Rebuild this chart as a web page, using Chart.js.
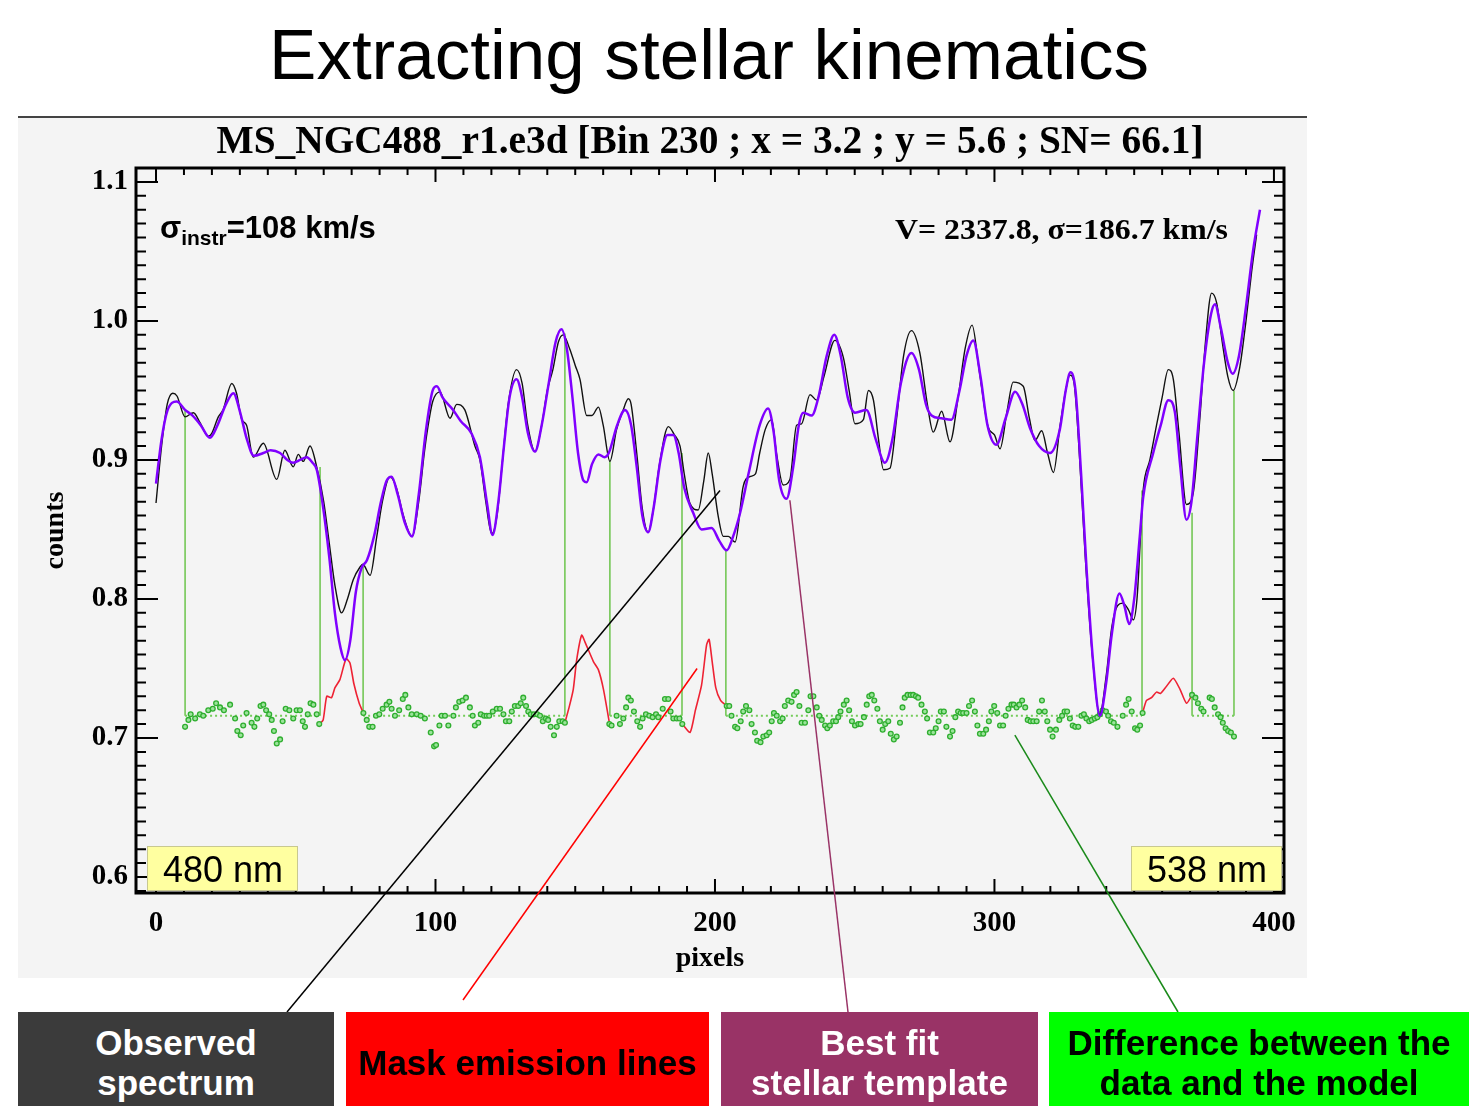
<!DOCTYPE html>
<html>
<head>
<meta charset="utf-8">
<script src="https://cdn.jsdelivr.net/npm/chart.js@4.4.0/dist/chart.umd.min.js"></script>
<style>
body { margin: 0; background: #fff; width: 1469px; height: 1106px; position: relative; overflow: hidden;
       font-family: "Liberation Sans", Arial, sans-serif; }
#head { position: absolute; left: 0; top: 19px; width: 1418px; text-align: center; font-size: 71px; line-height: 71px; color: #000; }
#panel { position: absolute; left: 18px; top: 116px; width: 1289px; height: 860px; background: #f4f4f4; border-top: 2px solid #444; }
#c { position: absolute; left: 0; top: 0; z-index: 1; }
.lab { position: absolute; top: 1012px; height: 94px; z-index: 2; display: flex; align-items: center; justify-content: center;
       text-align: center; font-weight: bold; font-size: 35px; line-height: 40px; box-sizing: border-box; padding-top: 7px; }
</style>
</head>
<body>
<div id="head">Extracting stellar kinematics</div>
<div id="panel"></div>
<canvas id="c" width="1469" height="1106"></canvas>
<div class="lab" style="left:18px;width:316px;background:#3b3b3b;color:#fff">Observed<br>spectrum</div>
<div class="lab" style="left:346px;width:363px;background:#ff0000;color:#000">Mask emission lines</div>
<div class="lab" style="left:721px;width:317px;background:#993366;color:#fff">Best fit<br>stellar template</div>
<div class="lab" style="left:1049px;width:420px;background:#00ff00;color:#000">Difference between the<br>data and the model</div>
<script>
// observed spectrum (black)
var obsX = [0, 2, 4, 6, 7.5, 10.4, 13.4, 15.7, 18.7, 19.9, 22.3, 24, 27.1, 28.8, 30.7, 32.4, 34.8, 38.4, 43.2, 46.1,
  49.1, 50.9, 52.7, 55.1, 57.5, 60, 62, 64, 66.4, 68.5, 70.6, 73, 74, 76.6, 79, 81, 83.7, 86, 88.5, 91.6,
  94, 96, 97, 99, 101.6, 105.2, 107.6, 110.5, 114.1, 115.9, 118, 120.1, 122, 124, 126, 129, 131, 133, 135.6, 138,
  140, 142, 144, 145.7, 148, 150, 151.7, 154.1, 156, 158.3, 160, 162.4, 164.8, 167, 169, 170, 172, 174, 176.1, 178,
  180, 183.3, 185.5, 187.5, 189, 191, 194, 196, 197.6, 199, 201.2, 203, 204.8, 207.2, 210.1, 212.5, 214.5, 216, 218, 220.3,
  222, 224.4, 226.8, 229.2, 231, 234, 236.4, 239, 242.9, 245.9, 248, 250.1, 253.1, 254.9, 256.7, 258.5, 260.3, 262.6, 265, 267.5,
  270.3, 273.3, 276, 278.1, 281.1, 284.1, 287, 289.5, 292, 294.5, 297.7, 300, 302, 304.5, 306.7, 310.3, 312.5, 314.5, 316.9, 319,
  321.1, 323.5, 325.5, 327, 328.5, 330.5, 332.5, 335, 337.7, 340, 342, 344, 346, 348, 349.7, 351, 353.2, 355.6, 358, 360,
  362.2, 364, 366, 368.7, 371.1, 373.5, 375.5, 377.7, 379.5, 381.5, 383.5, 385.4, 387.8, 390, 392, 393.8];
var obsY = [0.869, 0.910, 0.940, 0.948, 0.946, 0.931, 0.934, 0.927, 0.917, 0.919, 0.931, 0.936, 0.955, 0.948, 0.929, 0.925, 0.902, 0.912, 0.886, 0.907,
  0.895, 0.904, 0.899, 0.910, 0.895, 0.870, 0.840, 0.810, 0.790, 0.800, 0.814, 0.823, 0.825, 0.817, 0.845, 0.870, 0.888, 0.880, 0.860, 0.845,
  0.870, 0.905, 0.920, 0.942, 0.949, 0.930, 0.940, 0.936, 0.910, 0.900, 0.870, 0.847, 0.860, 0.900, 0.940, 0.965, 0.955, 0.925, 0.906, 0.925,
  0.950, 0.965, 0.985, 0.990, 0.980, 0.968, 0.958, 0.932, 0.932, 0.938, 0.925, 0.899, 0.922, 0.935, 0.944, 0.940, 0.905, 0.865, 0.848, 0.865,
  0.895, 0.924, 0.918, 0.910, 0.890, 0.869, 0.864, 0.885, 0.905, 0.890, 0.859, 0.845, 0.845, 0.841, 0.881, 0.888, 0.890, 0.905, 0.922, 0.929,
  0.905, 0.882, 0.886, 0.925, 0.926, 0.947, 0.943, 0.960, 0.986, 0.974, 0.950, 0.926, 0.929, 0.950, 0.943, 0.915, 0.893, 0.894, 0.930, 0.975,
  0.993, 0.977, 0.940, 0.920, 0.935, 0.913, 0.945, 0.980, 0.997, 0.965, 0.924, 0.918, 0.908, 0.935, 0.956, 0.953, 0.930, 0.914, 0.921, 0.905,
  0.891, 0.925, 0.950, 0.961, 0.955, 0.900, 0.830, 0.760, 0.717, 0.745, 0.780, 0.795, 0.797, 0.792, 0.785, 0.800, 0.878, 0.900, 0.925, 0.945,
  0.965, 0.958, 0.920, 0.868, 0.876, 0.930, 0.985, 1.020, 1.013, 0.985, 0.960, 0.950, 0.967, 1.000, 1.035, 1.062];

// best fit stellar template (purple)
var fitX = [0, 2, 4, 7.4, 10.4, 13, 16, 19.3, 22, 25, 27.7, 30, 32.5, 35, 38.4, 41, 44.4, 47, 49.1, 51.5,
  53.9, 56, 57.5, 59.5, 62, 64, 66, 67.6, 69.5, 71.5, 73.5, 75.5, 78, 80.5, 82.5, 84.3, 86.5, 89, 91.6, 94,
  96.5, 99, 100.5, 102.5, 106.3, 109, 112.9, 115.9, 118.5, 120.4, 122.5, 124.5, 126.5, 129, 131, 133, 135.6, 138, 140.5, 143,
  145.1, 147, 149, 151, 153, 154.1, 156, 158.3, 160.5, 162, 165, 167.8, 170, 172, 174, 176.1, 178, 180.5, 183, 185.1,
  187, 189, 192.2, 195.2, 198.8, 201.5, 204.2, 206.5, 209, 212, 216, 219, 221, 223, 225.6, 228, 230, 231.6, 234.6, 237,
  240, 242.7, 245, 247.5, 250.1, 254.2, 257.5, 260.8, 263.5, 266.5, 270.3, 273, 275.5, 277.5, 281, 284.6, 287.5, 290, 292.4, 295,
  297.5, 300.7, 304, 307.4, 310, 312.7, 316, 319.9, 323.4, 325.5, 327.2, 329, 331, 333, 335.5, 337.7, 340, 342, 344.7, 346.5,
  348.2, 350, 352, 353.2, 356.8, 359.5, 362.2, 364.5, 366.5, 368.7, 370.5, 372.5, 375, 377.5, 378.9, 381, 383.5, 385.2, 387.5, 390,
  392.5, 395];
var fitY = [0.883, 0.915, 0.935, 0.942, 0.936, 0.932, 0.925, 0.916, 0.925, 0.940, 0.948, 0.935, 0.915, 0.903, 0.905, 0.907, 0.905, 0.900, 0.898, 0.900,
  0.902, 0.898, 0.893, 0.870, 0.830, 0.790, 0.765, 0.756, 0.770, 0.805, 0.822, 0.828, 0.845, 0.870, 0.885, 0.888, 0.875, 0.855, 0.845, 0.875,
  0.920, 0.950, 0.953, 0.945, 0.936, 0.928, 0.919, 0.902, 0.868, 0.846, 0.870, 0.910, 0.945, 0.958, 0.945, 0.920, 0.906, 0.925, 0.955, 0.985,
  0.994, 0.980, 0.945, 0.905, 0.885, 0.884, 0.897, 0.904, 0.902, 0.905, 0.925, 0.936, 0.925, 0.895, 0.860, 0.848, 0.865, 0.900, 0.918, 0.918,
  0.905, 0.880, 0.862, 0.850, 0.851, 0.842, 0.835, 0.845, 0.862, 0.890, 0.925, 0.937, 0.920, 0.885, 0.872, 0.895, 0.925, 0.934, 0.932, 0.945,
  0.975, 0.990, 0.975, 0.945, 0.934, 0.936, 0.915, 0.898, 0.915, 0.955, 0.977, 0.965, 0.940, 0.932, 0.930, 0.929, 0.950, 0.975, 0.986, 0.960,
  0.925, 0.911, 0.930, 0.949, 0.940, 0.923, 0.910, 0.905, 0.922, 0.950, 0.963, 0.950, 0.890, 0.820, 0.750, 0.716, 0.740, 0.775, 0.804, 0.795,
  0.782, 0.800, 0.845, 0.873, 0.905, 0.925, 0.943, 0.935, 0.895, 0.857, 0.870, 0.915, 0.970, 1.005, 1.012, 0.995, 0.970, 0.962, 0.975, 1.010,
  1.050, 1.080];

// residuals data - model, shifted to the baseline level (green dots)
var resX = [10.4, 11.6, 12.4, 14, 15.7, 16.9, 18.7, 20.3, 21.5, 22.9, 24.3, 26.5, 28.3, 29.1, 30.3, 31.2, 32.4, 34.2, 35.2, 36.2,
  37.4, 38.4, 39.4, 40.5, 41.4, 42.2, 43.2, 44.4, 45.3, 46.4, 47.7, 49.1, 50.3, 51.5, 52.5, 53.3, 54.3, 55.3, 56.3, 57.5, 58.4,
  74.2, 75.4, 76.3, 77.5, 78.7, 79.9, 81.1, 82.5, 83.5, 84.3, 85.5, 87, 88.3, 89.2, 90.3, 91.5, 93.3, 94.7, 96.2, 98.3,
  99.5, 100.2, 101.4, 102.2, 103.4, 104.6, 106.4, 107.3, 108.5, 109.7, 110.9, 112.3, 113.3, 114.1, 115.3, 116.2, 117.4, 118.3, 119.2, 120.5,
  121.9, 123.1, 124.3, 125.2, 126.4, 127.3, 128.4, 129.6, 130.5, 131.4, 132.4, 133.2, 134.1, 135.2, 136.4, 137.4, 138.4, 139.5, 140.3, 141.2,
  142.4, 143.4, 144.3, 145.5, 146.3,
  162.2, 163, 164.8, 166, 167.2, 168.2, 169, 169.9, 171, 172.2, 173.2, 174.1, 175.3, 176.5, 177.7, 178.9, 179.7, 181.3, 182.1, 183.3,
  184.1, 185.1, 186.3, 187.3, 188.3,
  204.2, 205.1, 205.9, 207.2, 208, 209.2, 210.1, 211.1, 212.3, 213.1, 214.3, 215.1, 216.3, 217.3, 218.5, 219.4, 220.3, 221.1, 222.1, 223.3,
  224.2, 225, 226.2, 227.4, 228.3, 229.2, 230.2, 231, 232.2, 233.4, 234.2, 235.2, 236.4, 237.3, 238.2, 239.4, 240.2, 241.1, 242.3, 243.3,
  244.1, 244.9, 246.1, 247.1, 248, 249, 250.1, 251.3, 252.1, 253.3, 254.3, 255.2, 256.1, 257, 258.1, 259, 260, 260.9, 262, 262.9,
  264, 265, 266.2, 267.1, 267.9, 268.9, 270, 270.9, 271.9, 272.7, 273.9, 275.1, 275.9, 276.9, 278.1, 279, 280, 280.8, 281.9, 282.8,
  284.1, 285, 286, 287, 287.9, 288.8, 290, 290.9, 292, 293, 293.9, 294.8, 296, 297, 298, 298.9, 299.9, 301, 302, 303.1,
  304, 305, 306.1, 306.9, 307.9, 308.9, 309.9, 311, 311.9, 312.9, 313.9, 315.1, 316, 317, 318, 318.9, 319.9, 320.8, 322, 323.2,
  324.2, 325.1, 326, 327, 328, 328.9, 330, 331.1, 332, 332.9, 333.9, 334.8, 335.9, 336.8, 337.7, 338.7, 339.9, 340.7, 341.7, 342.7,
  344, 345.9, 347.1, 348, 349.1, 350.3, 351.1, 352.1, 353,
  370.7, 371.9, 372.8, 374, 374.8, 377, 377.8, 378.8, 380, 380.9, 381.7, 382.7, 383.6, 384.6, 385.7];
var resY = [0.708, 0.713, 0.717, 0.714, 0.717, 0.716, 0.720, 0.721, 0.725, 0.722, 0.720, 0.724, 0.714, 0.705, 0.702, 0.709, 0.718, 0.711, 0.708, 0.714,
  0.723, 0.724, 0.720, 0.717, 0.713, 0.705, 0.696, 0.699, 0.712, 0.721, 0.720, 0.714, 0.720, 0.720, 0.712, 0.708, 0.717, 0.725, 0.724, 0.717, 0.710,
  0.718, 0.713, 0.708, 0.708, 0.716, 0.717, 0.721, 0.724, 0.726, 0.721, 0.716, 0.720, 0.728, 0.731, 0.722, 0.717, 0.717, 0.716, 0.714, 0.704,
  0.694, 0.695, 0.709, 0.716, 0.716, 0.709, 0.716, 0.722, 0.726, 0.727, 0.729, 0.722, 0.716, 0.709, 0.711, 0.717, 0.716, 0.716, 0.716, 0.719,
  0.721, 0.721, 0.717, 0.712, 0.712, 0.719, 0.723, 0.723, 0.725, 0.729, 0.723, 0.719, 0.717, 0.717, 0.717, 0.716, 0.712, 0.714, 0.713, 0.708,
  0.702, 0.708, 0.712, 0.712, 0.711,
  0.710, 0.709, 0.716, 0.710, 0.714, 0.722, 0.729, 0.727, 0.719, 0.712, 0.708, 0.714, 0.717, 0.716, 0.715, 0.717, 0.715, 0.721, 0.728, 0.728,
  0.719, 0.714, 0.714, 0.714, 0.710,
  0.723, 0.723, 0.716, 0.708, 0.707, 0.712, 0.719, 0.723, 0.720, 0.710, 0.704, 0.698, 0.697, 0.701, 0.702, 0.704, 0.712, 0.718, 0.716, 0.712,
  0.714, 0.723, 0.727, 0.726, 0.731, 0.733, 0.723, 0.711, 0.711, 0.720, 0.730, 0.730, 0.722, 0.716, 0.713, 0.709, 0.707, 0.709, 0.712, 0.712,
  0.715, 0.719, 0.724, 0.727, 0.720, 0.712, 0.709, 0.710, 0.710, 0.715, 0.724, 0.730, 0.731, 0.727, 0.721, 0.712, 0.706, 0.710, 0.712, 0.703,
  0.699, 0.701, 0.711, 0.722, 0.729, 0.731, 0.731, 0.731, 0.730, 0.729, 0.724, 0.719, 0.714, 0.704, 0.704, 0.707, 0.712, 0.719, 0.719, 0.708,
  0.701, 0.705, 0.715, 0.719, 0.718, 0.718, 0.718, 0.723, 0.727, 0.719, 0.709, 0.703, 0.703, 0.706, 0.712, 0.719, 0.723, 0.718, 0.709, 0.709,
  0.716, 0.721, 0.724, 0.724, 0.722, 0.724, 0.727, 0.722, 0.713, 0.712, 0.712, 0.712, 0.719, 0.727, 0.719, 0.712, 0.706, 0.701, 0.706, 0.713,
  0.716, 0.719, 0.719, 0.714, 0.709, 0.708, 0.708, 0.716, 0.717, 0.714, 0.712, 0.713, 0.714, 0.715, 0.717, 0.720, 0.719, 0.716, 0.712, 0.711,
  0.708, 0.716, 0.724, 0.728, 0.719, 0.707, 0.706, 0.709, 0.718,
  0.731, 0.729, 0.725, 0.721, 0.719, 0.729, 0.728, 0.722, 0.717, 0.715, 0.711, 0.707, 0.705, 0.704, 0.701];

// residuals inside the masked emission-line windows (red), null splits the windows
var emX = [58.4, 59.8, 61.1, 62.8, 64, 65.8, 68, 69.4, 70.8, 72.7, 74.2, null,
  146.3, 147.8, 149.3, 150.5, 152.3, 153.5, 156.5, 158.3, 160.1, 162.3, null,
  188.3, 191.1, 193, 195.2, 197, 197.9, 199, 200.3, 202, 204.2, null,
  353, 354.4, 356.2, 358, 359.4, 361.5, 364, 366.4, 368.7, 370.7];
var emY = [0.710, 0.713, 0.730, 0.729, 0.736, 0.742, 0.757, 0.754, 0.739, 0.725, 0.718, null,
  0.711, 0.722, 0.735, 0.756, 0.774, 0.769, 0.755, 0.749, 0.735, 0.710, null,
  0.710, 0.704, 0.720, 0.738, 0.767, 0.771, 0.755, 0.736, 0.727, 0.723, null,
  0.718, 0.727, 0.729, 0.733, 0.732, 0.737, 0.743, 0.735, 0.725, 0.731];

// fit range limits and mask window edges (green verticals), and where they meet the spectrum
var edgeX = [10.4, 58.7, 74.1, 146.3, 162.4, 188.2, 203.9, 352.8, 370.7, 385.7];
var edgeTop = [0.936, 0.895, 0.823, 0.991, 0.899, 0.905, 0.835, 0.878, 0.862, 0.950];
var resLevel = 0.716;

var xTicks = [0, 100, 200, 300, 400];
var yTicks = [0.6, 0.7, 0.8, 0.9, 1.0, 1.1];

var serif = '"Liberation Serif", "DejaVu Serif", serif';
var sans = '"Liberation Sans", Arial, sans-serif';

function pts(xs, ys) {
  return xs.map(function(x, i) { return x === null ? { x: NaN, y: null } : { x: x, y: ys[i] }; });
}

var edgeLines = [];
edgeX.forEach(function(x, i) {
  edgeLines.push({ x: x, y: resLevel }, { x: x, y: edgeTop[i] }, { x: x, y: null });
});
var baseLine = [];
for (var i = 0; i < edgeX.length; i += 2) {
  baseLine.push({ x: edgeX[i], y: resLevel }, { x: edgeX[i + 1], y: resLevel }, { x: edgeX[i + 1], y: null });
}

// text pointers: tip in data units, tail on the label boxes (page pixels)
var pointers = [
  { tip: [201.8, 0.878], tail: [287, 1012], color: '#000', w: 1.5 },
  { tip: [193.6, 0.750], tail: [463, 1000], color: '#ff0000', w: 1.5 },
  { tip: [226.8, 0.871], tail: [848, 1012], color: '#993366', w: 1.5 },
  { tip: [307.3, 0.702], tail: [1178, 1012], color: '#1a8a1a', w: 1.5 }
];

function stretchText(g, txt, x, y, width, align) {
  var w = g.measureText(txt).width;
  g.save();
  g.translate(x, y);
  g.scale(width / w, 1);
  g.textAlign = align;
  g.fillText(txt, 0, 0);
  g.restore();
}

var frame = {
  id: 'frame',
  afterDatasetsDraw: function(c) {
    var a = c.chartArea, g = c.ctx, xs = c.scales.x, ys = c.scales.y;
    g.save();
    g.strokeStyle = '#000';
    g.lineWidth = 2;
    g.beginPath();
    for (var v = 0; v <= 400; v += 10) {
      var px = xs.getPixelForValue(v), len = v % 100 === 0 ? 14 : 7;
      g.moveTo(px, a.bottom); g.lineTo(px, a.bottom - len);
      g.moveTo(px, a.top); g.lineTo(px, a.top + len);
    }
    for (var k = 59; k <= 110; k++) {
      var py = ys.getPixelForValue(k / 100), l2 = k % 10 === 0 ? 22 : 10;
      g.moveTo(a.left, py); g.lineTo(a.left + l2, py);
      g.moveTo(a.right, py); g.lineTo(a.right - l2, py);
    }
    g.stroke();
    g.lineWidth = 3;
    g.strokeRect(a.left, a.top, a.right - a.left, a.bottom - a.top);
    g.restore();
  },
  afterDraw: function(c) {
    var a = c.chartArea, g = c.ctx, xs = c.scales.x, ys = c.scales.y;
    g.save();
    g.fillStyle = '#000';
    g.textBaseline = 'alphabetic';
    // plot title
    g.font = 'bold 40px ' + serif;
    stretchText(g, 'MS_NGC488_r1.e3d [Bin 230 ; x = 3.2 ; y = 5.6 ; SN= 66.1]', 710, 153, 987, 'center');
    // instrumental dispersion
    g.font = 'bold 31px ' + sans;
    g.textAlign = 'left';
    g.fillText('σ', 160, 238);
    var sw = g.measureText('σ').width;
    g.font = 'bold 21px ' + sans;
    g.fillText('instr', 160 + sw, 245);
    var iw = g.measureText('instr').width;
    g.font = 'bold 31px ' + sans;
    g.fillText('=108 km/s', 160 + sw + iw, 238);
    // fitted kinematics
    g.font = 'bold 29px ' + serif;
    stretchText(g, 'V= 2337.8, σ=186.7 km/s', 1228, 239, 333, 'right');
    // wavelength boxes
    g.font = '36px ' + sans;
    g.textAlign = 'center';
    [[a.left + 11, '480 nm'], [a.right - 153, '538 nm']].forEach(function(b) {
      g.fillStyle = '#ffffa0';
      g.fillRect(b[0], a.bottom - 47, 151, 45);
      g.strokeStyle = '#c8c890';
      g.lineWidth = 1;
      g.strokeRect(b[0] + 0.5, a.bottom - 46.5, 150, 44);
      g.fillStyle = '#000';
      g.fillText(b[1], b[0] + 76, a.bottom - 11);
    });
    // pointers
    pointers.forEach(function(p) {
      g.strokeStyle = p.color;
      g.lineWidth = p.w;
      g.beginPath();
      g.moveTo(xs.getPixelForValue(p.tip[0]), ys.getPixelForValue(p.tip[1]));
      g.lineTo(p.tail[0], p.tail[1]);
      g.stroke();
    });
    g.restore();
  }
};

var axisFont = { family: serif, size: 29, weight: 'bold' };

new Chart(document.getElementById('c'), {
  type: 'scatter',
  data: {
    datasets: [
      { data: pts(fitX, fitY), showLine: true, borderColor: '#8000ff', borderWidth: 2.5, pointRadius: 0, cubicInterpolationMode: 'monotone' },
      { data: pts(obsX, obsY), showLine: true, borderColor: '#111', borderWidth: 1.4, pointRadius: 0, cubicInterpolationMode: 'monotone' },
      { data: pts(resX, resY), showLine: false, pointRadius: 2.4, pointStyle: 'circle', backgroundColor: '#9be39b', borderColor: '#2fae2f', borderWidth: 1.3 },
      { data: pts(emX, emY), showLine: true, spanGaps: false, borderColor: '#ee2233', borderWidth: 1.6, pointRadius: 0, tension: 0.2 },
      { data: baseLine, showLine: true, spanGaps: false, borderColor: '#74cc5a', borderWidth: 2, borderDash: [2, 3], pointRadius: 0 },
      { data: edgeLines, showLine: true, spanGaps: false, borderColor: '#6cc44c', borderWidth: 1.5, pointRadius: 0 }
    ]
  },
  options: {
    responsive: false,
    animation: false,
    devicePixelRatio: 1,
    layout: { padding: { left: 0, top: 168, right: 185, bottom: 123 } },
    plugins: { legend: { display: false }, tooltip: { enabled: false } },
    scales: {
      x: {
        type: 'linear', min: -7.16, max: 403.6,
        afterFit: function(s) { s.height = 90; },
        afterBuildTicks: function(s) { s.ticks = xTicks.map(function(v) { return { value: v }; }); },
        grid: { display: false }, border: { display: false },
        ticks: { padding: 5, color: '#000', font: axisFont, maxRotation: 0 },
        title: { display: true, text: 'pixels', color: '#000', font: { family: serif, size: 28, weight: 'bold' }, padding: { top: 0, bottom: 7 } }
      },
      y: {
        type: 'linear', min: 0.5885, max: 1.110,
        afterFit: function(s) { s.width = 136; },
        afterBuildTicks: function(s) { s.ticks = yTicks.map(function(v) { return { value: v }; }); },
        grid: { display: false }, border: { display: false },
        ticks: { padding: 0, color: '#000', font: axisFont, callback: function(v) { return v.toFixed(1); } },
        title: { display: true, text: 'counts', color: '#000', font: { family: serif, size: 28, weight: 'bold' }, padding: { top: 39, bottom: 0 } }
      }
    }
  },
  plugins: [frame]
});
</script>
</body>
</html>
